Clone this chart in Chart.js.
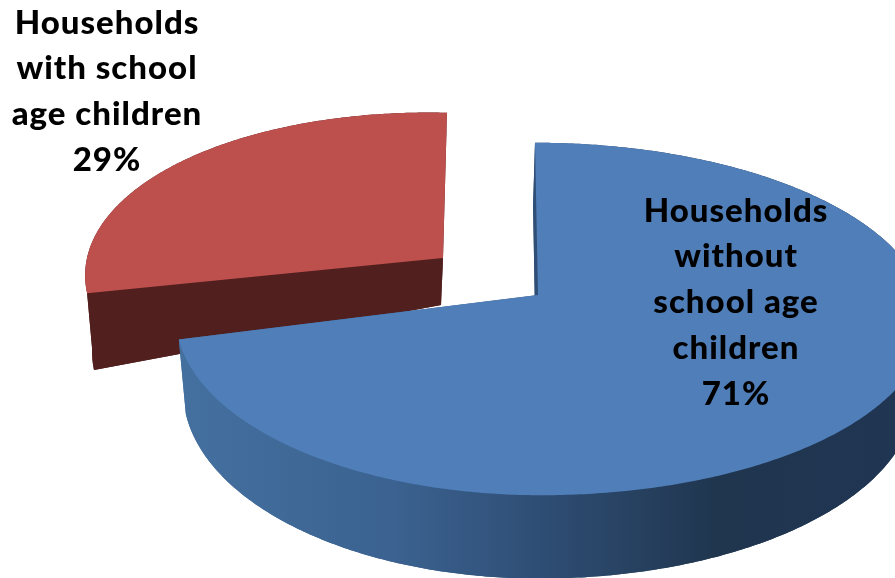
<!DOCTYPE html>
<html>
<head>
<meta charset="utf-8">
<style>
  html, body { margin: 0; padding: 0; background: #fff; overflow: hidden; }
  canvas { display: block; }
</style>
<script src="https://cdn.jsdelivr.net/npm/chart.js@4/dist/chart.umd.min.js"></script>
</head>
<body>
<canvas id="pie" width="895" height="578"></canvas>
<script>
const categories = ["Households without school age children", "Households with school age children"];
const shares = [71, 29];
const labelLines = [
  ["Households", "without", "school age", "children", "71%"],
  ["Households", "with school", "age children", "29%"],
];

// how each exploded slice sits on the page (the 3d look)
const planes = [
  { ax: 538, ay: 295, rx: 359, rxRight: 385, ry: 173, persp: 0.136, tilt: 0, shear: 3, depth: 72, depthTilt: 0, lowK: 0.975, lowDx: -2 },
  { ax: 443, ay: 258, rx: 354, rxRight: 354, ry: 165, persp: 0.136, tilt: 7.5, shear: -4, depth: 47, depthTilt: -28, lowK: 0.975, lowDx: -2 },
];
const topColors = ["#4f7eb8", "#bd504d"];
const labelPos = [
  { x: 107, y: 23 },
  { x: 736, y: 211 },
];
const labelOrder = [1, 0];
const lineGap = 45.8;

function project(pl, angle, radius, lower) {
  const u = Math.cos(angle) * radius;
  const v = Math.sin(angle) * radius;
  const s = 1 / (1 - pl.persp * v);
  let x = (u > 0 ? pl.rxRight : pl.rx) * u * s + pl.shear * v;
  let y = pl.ry * v * s + pl.tilt * u;
  if (lower) {
    x = x * pl.lowK + pl.lowDx;
    y += (pl.depth + pl.depthTilt * u) * s;
  }
  return { x: pl.ax + x, y: pl.ay + y };
}

function outline(ctx, pl, arc, lower) {
  ctx.beginPath();
  const first = project(pl, arc.startAngle, 0, lower);
  ctx.moveTo(first.x, first.y);
  const steps = Math.ceil((arc.endAngle - arc.startAngle) / 0.01);
  for (let i = 0; i <= steps; i++) {
    const a = arc.startAngle + (arc.endAngle - arc.startAngle) * i / steps;
    const p = project(pl, a, 1, lower);
    ctx.lineTo(p.x, p.y);
  }
  ctx.closePath();
}

// side walls: outer rim between the two planes plus the two cut faces
function wall(ctx, pl, arc, fill) {
  ctx.fillStyle = fill;
  outline(ctx, pl, arc, true);
  ctx.fill();
  const steps = Math.ceil((arc.endAngle - arc.startAngle) / 0.01);
  ctx.beginPath();
  for (let i = 0; i <= steps; i++) {
    const a = arc.startAngle + (arc.endAngle - arc.startAngle) * i / steps;
    const p = project(pl, a, 1, false);
    if (i === 0) ctx.moveTo(p.x, p.y); else ctx.lineTo(p.x, p.y);
  }
  for (let i = steps; i >= 0; i--) {
    const a = arc.startAngle + (arc.endAngle - arc.startAngle) * i / steps;
    const p = project(pl, a, 1, true);
    ctx.lineTo(p.x, p.y);
  }
  ctx.closePath();
  ctx.fill();
  [arc.startAngle, arc.endAngle].forEach((a) => {
    const p0 = project(pl, a, 0, false);
    const p1 = project(pl, a, 1, false);
    const p2 = project(pl, a, 1, true);
    const p3 = project(pl, a, 0, true);
    ctx.beginPath();
    ctx.moveTo(p0.x, p0.y);
    ctx.lineTo(p1.x, p1.y);
    ctx.lineTo(p2.x, p2.y);
    ctx.lineTo(p3.x, p3.y);
    ctx.closePath();
    ctx.fill();
  });
}

const pie3d = {
  id: "pie3d",
  beforeDatasetDraw(chart) {
    const ctx = chart.ctx;
    const arcs = chart.getDatasetMeta(0).data;

    const blueWall = ctx.createLinearGradient(180, 0, 895, 0);
    blueWall.addColorStop(0, "#44709f");
    blueWall.addColorStop(0.3, "#3b6290");
    blueWall.addColorStop(0.5, "#2f4e75");
    blueWall.addColorStop(0.75, "#20364f");
    blueWall.addColorStop(1, "#1f3552");

    ctx.save();
    // red slice goes behind the blue one
    wall(ctx, planes[1], arcs[1], "#501f1e");
    ctx.fillStyle = topColors[1];
    outline(ctx, planes[1], arcs[1], false);
    ctx.fill();

    wall(ctx, planes[0], arcs[0], blueWall);
    ctx.fillStyle = topColors[0];
    outline(ctx, planes[0], arcs[0], false);
    ctx.fill();
    ctx.restore();
    return false;
  },
  afterDraw(chart) {
    const ctx = chart.ctx;
    ctx.save();
    ctx.fillStyle = "#000";
    ctx.font = "900 33px Lato";
    ctx.letterSpacing = "1px";
    ctx.textAlign = "center";
    ctx.textBaseline = "middle";
    labelOrder.forEach((idx, i) => {
      labelLines[idx].forEach((line, j) => {
        ctx.fillText(line, labelPos[i].x, labelPos[i].y + j * lineGap);
      });
    });
    ctx.restore();
  },
};

new Chart(document.getElementById("pie"), {
  type: "pie",
  data: {
    labels: categories,
    datasets: [{ data: shares, backgroundColor: topColors, borderWidth: 0 }],
  },
  options: {
    responsive: false,
    animation: false,
    plugins: {
      legend: { display: false },
      tooltip: { enabled: false },
    },
  },
  plugins: [pie3d],
});
</script>
</body>
</html>
